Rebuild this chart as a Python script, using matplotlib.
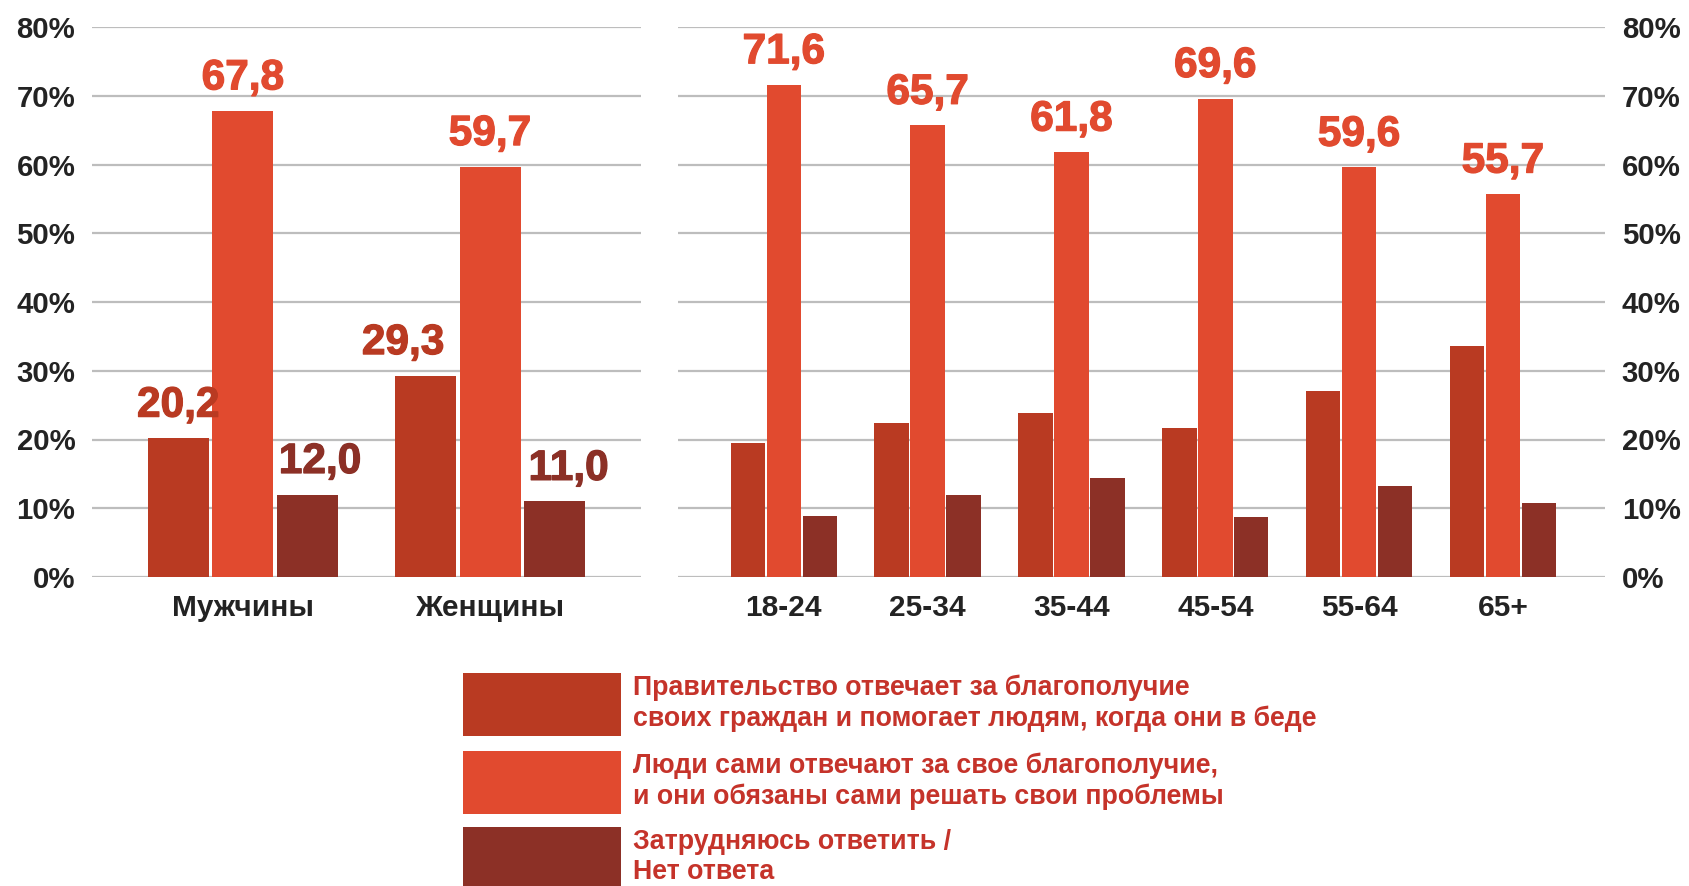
import matplotlib
matplotlib.use("Agg")
import matplotlib.pyplot as plt
import matplotlib.patheffects as pe
from matplotlib.patches import Rectangle
import numpy as np
from matplotlib import font_manager

# ---------------- data ----------------
sex_categories = ["Мужчины", "Женщины"]
sex_gov = [20.2, 29.3]
sex_people = [67.8, 59.7]
sex_dk = [12.0, 11.0]

age_categories = ["18-24", "25-34", "35-44", "45-54", "55-64", "65+"]
age_gov = [19.5, 22.4, 23.8, 21.7, 27.1, 33.6]
age_people = [71.6, 65.7, 61.8, 69.6, 59.6, 55.7]
age_dk = [8.9, 11.9, 14.4, 8.7, 13.3, 10.7]

y_ticks = [0, 10, 20, 30, 40, 50, 60, 70, 80]
y_tick_labels = ["0%", "10%", "20%", "30%", "40%", "50%", "60%", "70%", "80%"]

legend_labels = [
    "Правительство отвечает за благополучие\nсвоих граждан и помогает людям, когда они в беде",
    "Люди сами отвечают за свое благополучие,\nи они обязаны сами решать свои проблемы",
    "Затрудняюсь ответить /\nНет ответа",
]

# ---------------- style ----------------
C_GOV = "#B93A22"
C_PEOPLE = "#E14A2F"
C_DK = "#8C3026"
TXT = "#232323"
LEG_TXT = "#C5332A"
GRID = "#BDBDBD"

avail = {f.name for f in font_manager.fontManager.ttflist}
base_font = "Liberation Sans" if "Liberation Sans" in avail else "DejaVu Sans"
plt.rcParams["font.family"] = [base_font, "DejaVu Sans"]

fig = plt.figure(figsize=(16.89, 8.86), dpi=100)
fig.patch.set_facecolor("white")

H = 886.0
W = 1689.0
ax_bottom = (H - 577) / H
ax_height = (577 - 27) / H
axL = fig.add_axes([92 / W, ax_bottom, 549 / W, ax_height])
axR = fig.add_axes([678 / W, ax_bottom, 927 / W, ax_height])


def style_axis(ax, right=False):
    ax.set_ylim(0, 80)
    ax.set_yticks(y_ticks)
    ax.set_yticklabels(y_tick_labels)
    for s in ax.spines.values():
        s.set_visible(False)
    ax.yaxis.grid(True, color=GRID, linewidth=1.6)
    ax.set_axisbelow(True)
    if right:
        ax.yaxis.tick_right()
    ax.tick_params(axis="y", length=0, pad=12, labelsize=21.2, labelcolor=TXT)
    ax.tick_params(axis="x", length=0, pad=12, labelsize=21.5, labelcolor=TXT)
    for t in ax.yaxis.get_major_ticks():
        t.label1.set_fontweight("bold")
        t.label2.set_fontweight("bold")
    for t in ax.xaxis.get_major_ticks():
        t.label1.set_fontweight("bold")


def label(ax, x, v, color, dx=0):
    t = ax.annotate(f"{v:.1f}".replace(".", ","), (x, v), xytext=(dx, 9),
                    textcoords="offset points", ha="center", va="bottom",
                    fontsize=30.5, fontweight="bold", color=color)
    t.set_path_effects([pe.withStroke(linewidth=0.9, foreground=color)])


# left panel
xL = np.arange(len(sex_categories))
wL = 0.247
stepL = 0.2615
axL.bar(xL - stepL, sex_gov, wL, color=C_GOV, zorder=2)
axL.bar(xL, sex_people, wL, color=C_PEOPLE, zorder=2)
axL.bar(xL + stepL, sex_dk, wL, color=C_DK, zorder=2)
axL.set_xlim(-0.611, 1.611)
axL.set_xticks(xL)
axL.set_xticklabels(sex_categories)
style_axis(axL)
gov_dx = [0, -16]
dk_dx = [9, 10]
for i in range(len(sex_categories)):
    label(axL, xL[i] - stepL, sex_gov[i], C_GOV, gov_dx[i])
    label(axL, xL[i], sex_people[i], C_PEOPLE)
    label(axL, xL[i] + stepL, sex_dk[i], C_DK, dk_dx[i])

# right panel
xR = np.arange(len(age_categories))
wR = 0.24
stepR = 0.25
axR.bar(xR - stepR, age_gov, wR, color=C_GOV, zorder=2)
axR.bar(xR, age_people, wR, color=C_PEOPLE, zorder=2)
axR.bar(xR + stepR, age_dk, wR, color=C_DK, zorder=2)
axR.set_xlim(-0.736, 5.71)
axR.set_xticks(xR)
axR.set_xticklabels(age_categories)
style_axis(axR, right=True)
for i in range(len(age_categories)):
    label(axR, xR[i], age_people[i], C_PEOPLE)

# legend (manual)
leg_colors = [C_GOV, C_PEOPLE, C_DK]
patch_boxes = [(673, 736), (751, 814), (827, 886)]
for col, (top, bot), txt in zip(leg_colors, patch_boxes, legend_labels):
    fig.add_artist(Rectangle((463 / W, (H - bot) / H), 158 / W, (bot - top) / H,
                             transform=fig.transFigure, facecolor=col, edgecolor="none"))
    fig.text(633 / W, (H - (top + 2)) / H, txt, ha="left", va="top",
             fontsize=19.3, fontweight="bold", color=LEG_TXT, linespacing=1.2)

fig.savefig("out.png", dpi=100, facecolor="white")
